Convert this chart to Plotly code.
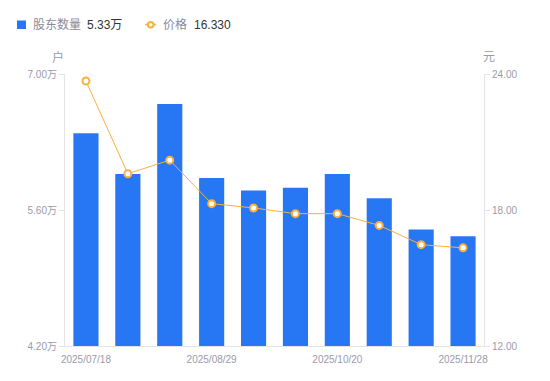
import plotly.graph_objects as go

dates = ["2025/07/18", "2025/07/31", "2025/08/15", "2025/08/29", "2025/09/10",
         "2025/09/30", "2025/10/20", "2025/10/31", "2025/11/14", "2025/11/28"]
holders_wan = [6.39, 5.97, 6.69, 5.93, 5.80, 5.83, 5.97, 5.72, 5.40, 5.33]
price = [23.69, 19.60, 20.20, 18.28, 18.09, 17.84, 17.84, 17.32, 16.47, 16.33]
shown_dates = ["2025/07/18", "2025/08/29", "2025/10/20", "2025/11/28"]
left_ticks = [4.20, 5.60, 7.00]
right_ticks = [12.00, 18.00, 24.00]

BLUE = "#2777F5"
ORANGE = "#F8B03F"
GRAY = "#9a9aab"
AXIS = "#e3e3e8"
FONT = "Liberation Sans, Arial, Noto Sans CJK SC, sans-serif"

fig = go.Figure()
fig.add_trace(go.Bar(
    x=dates, y=holders_wan, name="股东数量", marker=dict(color=BLUE, line=dict(width=0)),
    width=0.6, yaxis="y", showlegend=False))
fig.add_trace(go.Scatter(
    x=dates, y=price, name="价格", mode="lines+markers", yaxis="y2",
    line=dict(color=ORANGE, width=1),
    marker=dict(symbol="circle", size=7, color="white", line=dict(color=ORANGE, width=2)),
    showlegend=False))

fig.update_layout(
    width=550, height=381,
    margin=dict(l=65, r=66, t=74, b=35),
    paper_bgcolor="white", plot_bgcolor="white",
    font=dict(family=FONT, size=10, color=GRAY),
    bargap=0.4,
    xaxis=dict(type="category", tickmode="array", tickvals=shown_dates, ticktext=shown_dates,
               range=[-0.5, len(dates) - 0.5], autorange=False,
               showgrid=False, showline=True, linecolor=AXIS, linewidth=1, ticks="",
               ticklabelstandoff=4,
               tickfont=dict(size=10, color=GRAY), zeroline=False, fixedrange=True),
    yaxis=dict(range=[4.2, 7.0], tickvals=left_ticks,
               ticktext=[f"{v:.2f}万" for v in left_ticks],
               showgrid=False, showline=True, linecolor=AXIS, linewidth=1,
               ticks="outside", ticklen=5, tickcolor=AXIS,
               tickfont=dict(size=10, color=GRAY), zeroline=False),
    yaxis2=dict(range=[12, 24], tickvals=right_ticks,
                ticktext=[f"{v:.2f}" for v in right_ticks],
                overlaying="y", side="right",
                showgrid=False, showline=True, linecolor=AXIS, linewidth=1,
                ticks="outside", ticklen=5, tickcolor=AXIS,
                tickfont=dict(size=10, color=GRAY), zeroline=False),
)

# axis unit labels
fig.add_annotation(text="户", xref="paper", yref="paper", x=0, y=1, xshift=-7, yshift=17,
                   xanchor="center", yanchor="middle",
                   showarrow=False, font=dict(size=12, color=GRAY))
fig.add_annotation(text="元", xref="paper", yref="paper", x=1, y=1, xshift=5, yshift=17,
                   xanchor="center", yanchor="middle",
                   showarrow=False, font=dict(size=12, color=GRAY))

# custom legend (pixel -> paper conversion)
W, H, L, T = 550 - 65 - 66, 381 - 74 - 35, 65, 74
def px(x):
    return (x - L) / W
def py(y):
    return (381 - 35 - y) / H

fig.add_shape(type="rect", xref="paper", yref="paper",
              x0=px(17), x1=px(26), y0=py(20.5), y1=py(29), fillcolor=BLUE, line=dict(width=0))
fig.add_annotation(text="股东数量", xref="paper", yref="paper", x=px(31), y=py(24.5),
                   xanchor="left", yanchor="middle", showarrow=False,
                   font=dict(size=12, color="#8a8a9a"))
fig.add_annotation(text=f"{holders_wan[-1]:.2f}万", xref="paper", yref="paper", x=px(85), y=py(24.5),
                   xanchor="left", yanchor="middle", showarrow=False,
                   font=dict(size=12, color="#333333"))
fig.add_shape(type="line", xref="paper", yref="paper",
              x0=px(145), x1=px(156), y0=py(24.5), y1=py(24.5), line=dict(color=ORANGE, width=1.5))
fig.add_shape(type="circle", xref="paper", yref="paper",
              x0=px(148), x1=px(153.5), y0=py(22), y1=py(27.5),
              fillcolor="white", line=dict(color=ORANGE, width=2))
fig.add_annotation(text="价格", xref="paper", yref="paper", x=px(161), y=py(24.5),
                   xanchor="left", yanchor="middle", showarrow=False,
                   font=dict(size=12, color="#8a8a9a"))
fig.add_annotation(text=f"{price[-1]:.3f}", xref="paper", yref="paper", x=px(192), y=py(24.5),
                   xanchor="left", yanchor="middle", showarrow=False,
                   font=dict(size=12, color="#333333"))

fig.write_html("out.html", config={"displayModeBar": False},
               post_script="document.body.style.margin='0';document.body.style.padding='0';")
